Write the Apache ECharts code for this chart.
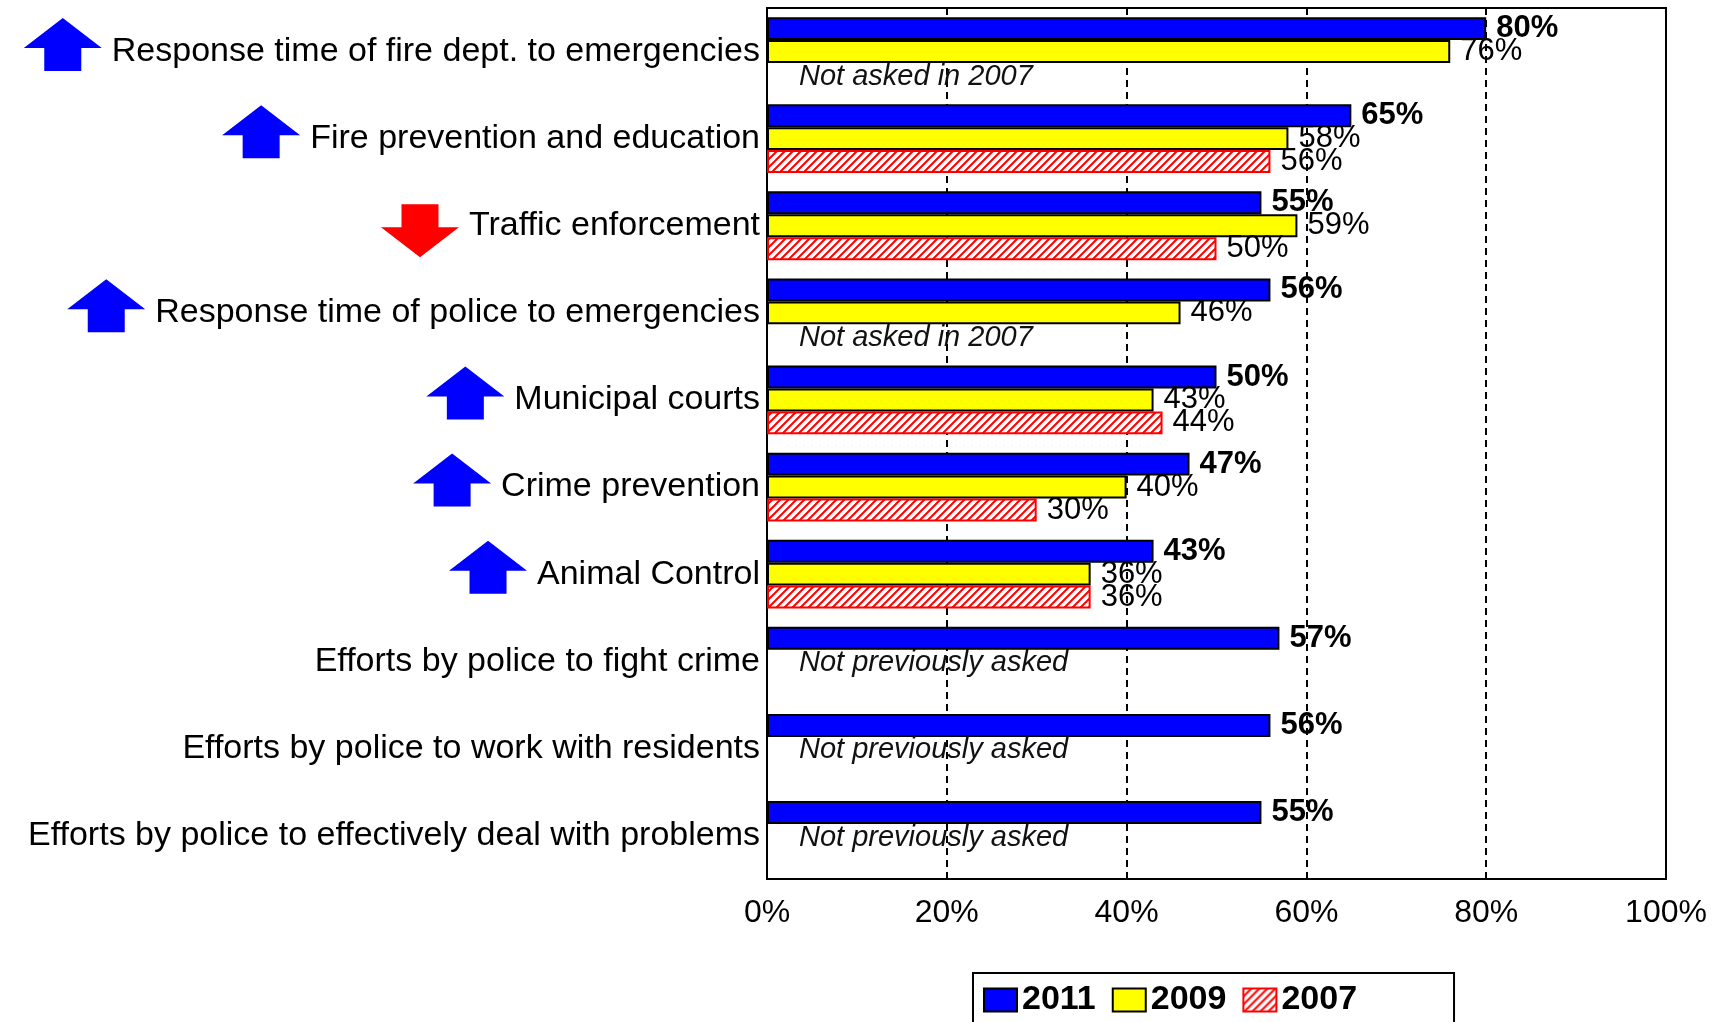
<!DOCTYPE html>
<html>
<head>
<meta charset="utf-8">
<script src="https://cdn.jsdelivr.net/npm/echarts@6/dist/echarts.min.js"></script>
<style>
  html, body { margin: 0; padding: 0; background: #ffffff; }
  #chart { width: 1721px; height: 1022px; }
</style>
</head>
<body>
<div id="chart"></div>
<script>
// Survey satisfaction by service, three survey years
const categories = [
  'Response time of fire dept. to emergencies',
  'Fire prevention and education',
  'Traffic enforcement',
  'Response time of police to emergencies',
  'Municipal courts',
  'Crime prevention',
  'Animal Control',
  'Efforts by police to fight crime',
  'Efforts by police to work with residents',
  'Efforts by police to effectively deal with problems'
];
const years = ['2011', '2009', '2007'];
const values2011 = [80, 65, 55, 56, 50, 47, 43, 57, 56, 55];
const values2009 = [76, 58, 59, 46, 43, 40, 36, null, null, null];
const values2007 = [null, 56, 50, null, 44, 30, 36, null, null, null];
// change since the last survey: 'up', 'down' or none
const trend = ['up', 'up', 'down', 'up', 'up', 'up', 'up', null, null, null];
// notes written in the empty slot of a category: [category, slot, text]
const notes = [
  ['Response time of fire dept. to emergencies', 2, 'Not asked in 2007'],
  ['Response time of police to emergencies', 2, 'Not asked in 2007'],
  ['Efforts by police to fight crime', 1, 'Not previously asked'],
  ['Efforts by police to work with residents', 1, 'Not previously asked'],
  ['Efforts by police to effectively deal with problems', 1, 'Not previously asked']
];
const xTickValues = [0, 20, 40, 60, 80, 100];

const FONT = "'Liberation Sans', Arial, Helvetica, sans-serif";
const CAT_FONT_SIZE = 34;
const CAT_MARGIN = 7;
const GAP_RATIO = 0.21;

// red diagonal hatching on white for the 2007 bars
function makeHatch() {
  const c = document.createElement('canvas');
  c.width = 8; c.height = 8;
  const g = c.getContext('2d');
  g.fillStyle = '#ffffff';
  g.fillRect(0, 0, 8, 8);
  g.strokeStyle = '#ff0000';
  g.lineWidth = 2;
  g.beginPath();
  g.moveTo(-1, 9); g.lineTo(9, -1);
  g.moveTo(-1, 1); g.lineTo(1, -1);
  g.moveTo(7, 9); g.lineTo(9, 7);
  g.stroke();
  return c;
}
const hatch = { image: makeHatch(), repeat: 'repeat' };

const chart = echarts.init(document.getElementById('chart'), null, { renderer: 'canvas' });

function barLabel(bold) {
  return {
    show: true,
    position: 'right',
    distance: 10,
    formatter: '{c}%',
    color: '#000',
    fontFamily: FONT,
    fontSize: 31,
    fontWeight: bold ? 'bold' : 'normal'
  };
}

const seriesStyles = [
  { color: '#0000ff', borderColor: '#000000', borderWidth: 2 },
  { color: '#ffff00', borderColor: '#000000', borderWidth: 2 },
  { color: hatch, borderColor: '#ff0000', borderWidth: 2 }
];

const option = {
  animation: false,
  backgroundColor: '#ffffff',
  grid: {
    left: 767, right: 55, top: 8, bottom: 143,
    outerBoundsMode: 'none',
    containLabel: false,
    show: true, borderColor: '#000', borderWidth: 2, backgroundColor: 'transparent'
  },
  legend: {
    data: years.map((y, i) => ({ name: y, itemStyle: seriesStyles[i] })),
    left: 973, top: 973,
    orient: 'horizontal',
    icon: 'rect',
    itemWidth: 33, itemHeight: 23, itemGap: 16,
    padding: [10, 97, 40, 10],
    borderColor: '#000', borderWidth: 2,
    selectedMode: false,
    textStyle: { fontFamily: FONT, fontSize: 34, fontWeight: 'bold', color: '#000' }
  },
  xAxis: {
    type: 'value',
    min: xTickValues[0], max: xTickValues[xTickValues.length - 1], interval: 20,
    axisLine: { show: true, lineStyle: { color: '#000', width: 2 } },
    axisTick: { show: false },
    axisLabel: {
      formatter: '{value}%', margin: 18, color: '#000',
      fontFamily: FONT, fontSize: 32
    },
    splitLine: {
      show: true, showMinLine: false, showMaxLine: false,
      lineStyle: { color: '#000', width: 2, type: [7, 5] }
    }
  },
  yAxis: {
    type: 'category',
    inverse: true,
    data: categories,
    axisLine: { show: true, lineStyle: { color: '#000', width: 2 } },
    axisTick: { show: false },
    axisLabel: { margin: CAT_MARGIN, color: '#000', fontFamily: FONT, fontSize: CAT_FONT_SIZE }
  },
  series: [
    {
      name: years[0], type: 'bar', data: values2011,
      barGap: '0%', barCategoryGap: (GAP_RATIO * 100) + '%',
      itemStyle: seriesStyles[0], label: barLabel(true), z: 3
    },
    {
      name: years[1], type: 'bar', data: values2009,
      barGap: '0%', barCategoryGap: (GAP_RATIO * 100) + '%',
      itemStyle: seriesStyles[1], label: barLabel(false), z: 3
    },
    {
      name: years[2], type: 'bar', data: values2007,
      barGap: '0%', barCategoryGap: (GAP_RATIO * 100) + '%',
      itemStyle: seriesStyles[2], label: barLabel(false), z: 3
    },
    {
      name: 'notes', type: 'custom', z: 5, silent: true,
      encode: { x: 0, y: 1 },
      data: notes.map(n => [0, n[0], n[1], n[2]]),
      renderItem: function (params, api) {
        const catIdx = api.value(1);
        const slot = api.value(2);
        const p = api.coord([0, catIdx]);
        const band = api.size([0, 1])[1];
        const barsTotal = band * (1 - GAP_RATIO);
        const slotH = barsTotal / 3;
        const y = p[1] - barsTotal / 2 + slotH * (slot + 0.5);
        return {
          type: 'text',
          style: {
            text: notes[params.dataIndex][2],
            x: p[0] + 32, y: y + 2,
            verticalAlign: 'middle', align: 'left',
            fill: '#111',
            font: 'italic 29px ' + FONT
          }
        };
      }
    }
  ]
};

chart.setOption(option);

// trend arrows to the left of each category label
function drawArrows() {
  const ctx = document.createElement('canvas').getContext('2d');
  ctx.font = CAT_FONT_SIZE + 'px ' + FONT;
  const x0 = chart.convertToPixel({ xAxisIndex: 0 }, 0);
  const W = 78, H = 53, HEAD = 30, SHAFT = 37;
  const elements = [];
  categories.forEach((name, i) => {
    const dir = trend[i];
    if (!dir) return;
    const yc = chart.convertToPixel({ yAxisIndex: 0 }, name) + (dir === 'up' ? -7 : 5);
    const textW = ctx.measureText(name).width;
    const right = x0 - CAT_MARGIN - textW - 10;
    const cx = right - W / 2;
    const top = yc - H / 2, bot = yc + H / 2;
    let pts;
    if (dir === 'up') {
      pts = [[cx, top], [cx + W / 2, top + HEAD], [cx + SHAFT / 2, top + HEAD], [cx + SHAFT / 2, bot],
             [cx - SHAFT / 2, bot], [cx - SHAFT / 2, top + HEAD], [cx - W / 2, top + HEAD]];
    } else {
      pts = [[cx, bot], [cx + W / 2, bot - HEAD], [cx + SHAFT / 2, bot - HEAD], [cx + SHAFT / 2, top],
             [cx - SHAFT / 2, top], [cx - SHAFT / 2, bot - HEAD], [cx - W / 2, bot - HEAD]];
    }
    elements.push({
      type: 'polygon', silent: true,
      shape: { points: pts },
      style: { fill: dir === 'up' ? '#0000ff' : '#ff0000' }
    });
  });
  chart.setOption({ graphic: { elements: elements } });
}
drawArrows();
</script>
</body>
</html>
